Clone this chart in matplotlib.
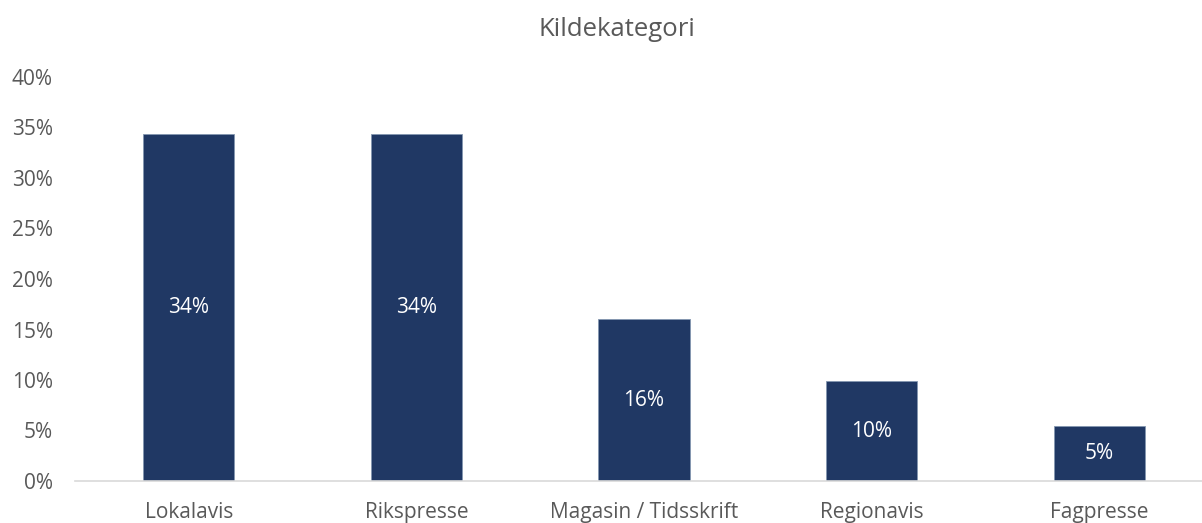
import matplotlib
matplotlib.use("Agg")
import matplotlib.pyplot as plt
from matplotlib.ticker import FuncFormatter

categories = ["Lokalavis", "Rikspresse", "Magasin / Tidsskrift", "Regionavis", "Fagpresse"]
shares = [34.4, 34.4, 16.0, 9.9, 5.4]
value_labels = ["34%", "34%", "16%", "10%", "5%"]
y_ticks = [0, 5, 10, 15, 20, 25, 30, 35, 40]

plt.rcParams["font.family"] = ["Open Sans", "DejaVu Sans"]
text_color = "#595959"
bar_color = "#203864"

fig = plt.figure(figsize=(12.02, 5.23), dpi=100)
ax = fig.add_axes([75 / 1202, 42 / 523, 1138 / 1202, 404 / 523])

x = list(range(len(categories)))
bars = ax.bar(x, shares, width=0.4, color=bar_color, edgecolor="#8497b0", linewidth=0.6)

for bar, label in zip(bars, value_labels):
    ax.text(bar.get_x() + bar.get_width() / 2, bar.get_height() / 2, label,
            ha="center", va="center", color="white", fontsize=15)

ax.set_xlim(-0.5, 4.5)
ax.set_ylim(0, 40)
ax.set_yticks(y_ticks)
ax.yaxis.set_major_formatter(FuncFormatter(lambda v, p: f"{v:.0f}%"))
ax.set_xticks(x)
ax.set_xticklabels(categories)
ax.tick_params(axis="both", length=0, labelsize=15, colors=text_color)
ax.tick_params(axis="x", pad=15)
ax.tick_params(axis="y", pad=16)

for side in ["top", "right", "left"]:
    ax.spines[side].set_visible(False)
ax.spines["bottom"].set_color("#d9d9d9")
ax.spines["bottom"].set_linewidth(1.2)

fig.text(617 / 1202, 1 - 30 / 523, "Kildekategori", ha="center", va="center",
         fontsize=18.5, color=text_color)

fig.savefig("out.png", dpi=100)
